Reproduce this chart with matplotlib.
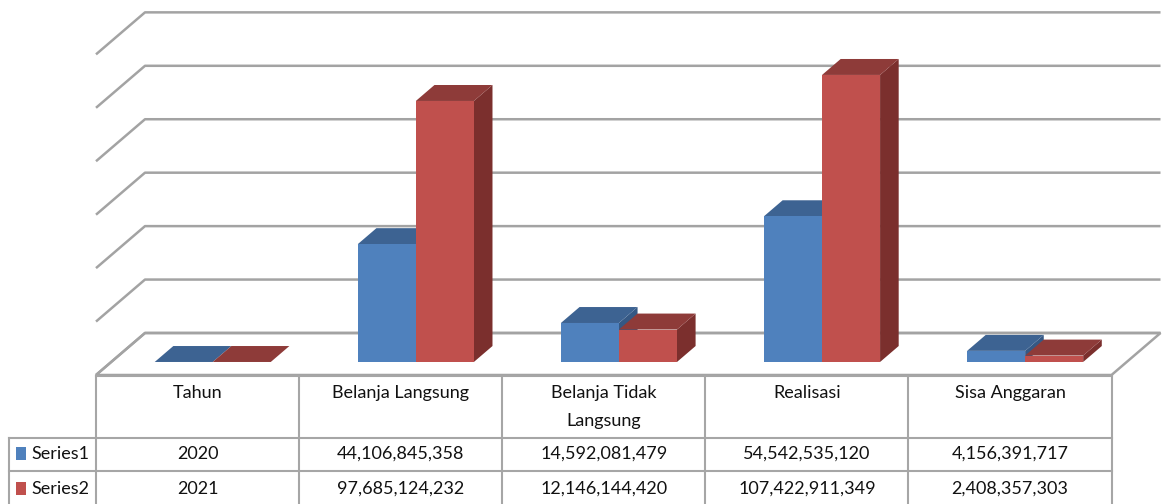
import numpy
import matplotlib
from matplotlib import pyplot
from matplotlib.patches import Polygon, Rectangle

categories = ["Tahun", "Belanja Langsung", "Belanja Tidak\nLangsung",
              "Realisasi", "Sisa Anggaran"]
series_names = ["Series1", "Series2"]
series1 = [2020, 44106845358, 14592081479, 54542535120, 4156391717]
series2 = [2021, 97685124232, 12146144420, 107422911349, 2408357303]

front_colors = ["#4F81BD", "#C0504D"]
top_colors = ["#3D6392", "#8E3B39"]
side_colors = ["#355884", "#7B2F2D"]
grid_color = "#A3A3A3"
line_color = "#A6A6A6"

# layout of the fake 3d box (pixels of a 1168x504 figure)
FIG_W, FIG_H = 1168, 504
PX_PER_CAT = 203.1
PX_PER_B = 2.672
FLOOR_LEFT_PX = 96
FLOOR_FRONT_PX = 375
DEPTH_DX = 49 / PX_PER_CAT    # category units for full depth
DEPTH_DY = 42 / PX_PER_B      # billions for full depth
BAR_D0, BAR_D1 = 0.31, 0.69
BAR_W = 1 / 3.5               # gap width 150 %
VMAX, VSTEP = 120, 20


def proj(x, v, d):
    return (x + d * DEPTH_DX, v + d * DEPTH_DY)


def cat(px):
    return XLIM[0] + px / PX_PER_CAT


x0 = -0.5 - FLOOR_LEFT_PX / PX_PER_CAT
XLIM = (x0, x0 + FIG_W / PX_PER_CAT)
y0 = -(FIG_H - FLOOR_FRONT_PX) / PX_PER_B
YLIM = (y0, y0 + FIG_H / PX_PER_B)

pyplot.switch_backend("agg")
fig = pyplot.figure(figsize=(FIG_W / 100, FIG_H / 100), dpi=100)
ax = fig.add_axes([0, 0, 1, 1])
ax.set_xlim(*XLIM)
ax.set_ylim(*YLIM)
ax.axis("off")

ncat = len(categories)
xr_end = ncat - 0.5

# back wall + left wall gridlines
for v in numpy.arange(0, VMAX + 1, VSTEP):
    pts = [proj(-0.5, v, 0), proj(-0.5, v, 1), proj(xr_end, v, 1)]
    ax.plot([p[0] for p in pts], [p[1] for p in pts], color=grid_color,
            lw=1.8, solid_capstyle="butt", zorder=1)

# floor outline
floor = [proj(-0.5, 0, 0), proj(xr_end, 0, 0), proj(xr_end, 0, 1),
         proj(-0.5, 0, 1)]
ax.add_patch(Polygon(floor, closed=True, fill=False, ec=grid_color, lw=1.8,
                     zorder=1))

# bars
for i in range(ncat):
    for s, values in enumerate([series1, series2]):
        h = values[i] / 1e9
        xl = i - BAR_W + s * BAR_W
        xr = xl + BAR_W
        side = [proj(xr, 0, BAR_D0), proj(xr, 0, BAR_D1),
                proj(xr, h, BAR_D1), proj(xr, h, BAR_D0)]
        top = [proj(xl, h, BAR_D0), proj(xr, h, BAR_D0),
               proj(xr, h, BAR_D1), proj(xl, h, BAR_D1)]
        front = [proj(xl, 0, BAR_D0), proj(xr, 0, BAR_D0),
                 proj(xr, h, BAR_D0), proj(xl, h, BAR_D0)]
        for poly, c in [(side, side_colors[s]), (top, top_colors[s]),
                        (front, front_colors[s])]:
            ax.add_patch(Polygon(poly, closed=True, fc=c, ec="none",
                                 zorder=2 + i))

# data table below the floor
tab = fig.add_axes([0, 0, 1, 1])
tab.set_xlim(*XLIM)
tab.set_ylim(FIG_H, 0)
tab.axis("off")
tab.patch.set_alpha(0)

row_top, row_head, row_s1, row_s2 = 375.5, 437.5, 471, 506
lab_left = cat(9)
lkw = dict(color=line_color, lw=1.5, zorder=5)
tab.plot([-0.5, xr_end], [row_top, row_top], **lkw)
for yy in (row_head, row_s1, row_s2):
    tab.plot([lab_left, xr_end], [yy, yy], **lkw)
tab.plot([lab_left, lab_left], [row_head, row_s2], **lkw)
for k in range(ncat + 1):
    tab.plot([k - 0.5, k - 0.5], [row_top, row_s2], **lkw)

font = dict(family=["Lato", "DejaVu Sans"], size=13, color="#111111")
for i, name in enumerate(categories):
    tab.text(i, 385, name, ha="center", va="top", linespacing=1.95, **font)

for s, values in enumerate([series1, series2]):
    yc = [454, 489][s]
    labels = ["{0:,}".format(v) if v > 9999 else str(v) for v in values]
    for i, lab in enumerate(labels):
        tab.text(i, yc, lab, ha="center", va="center", **font)
    tab.add_patch(Rectangle((cat(16), yc - 7), 10 / PX_PER_CAT, 13,
                            fc=front_colors[s], ec="none", zorder=6))
    tab.text(cat(31), yc, series_names[s], ha="left", va="center", **font)

fig.savefig("out.png", dpi=100)
